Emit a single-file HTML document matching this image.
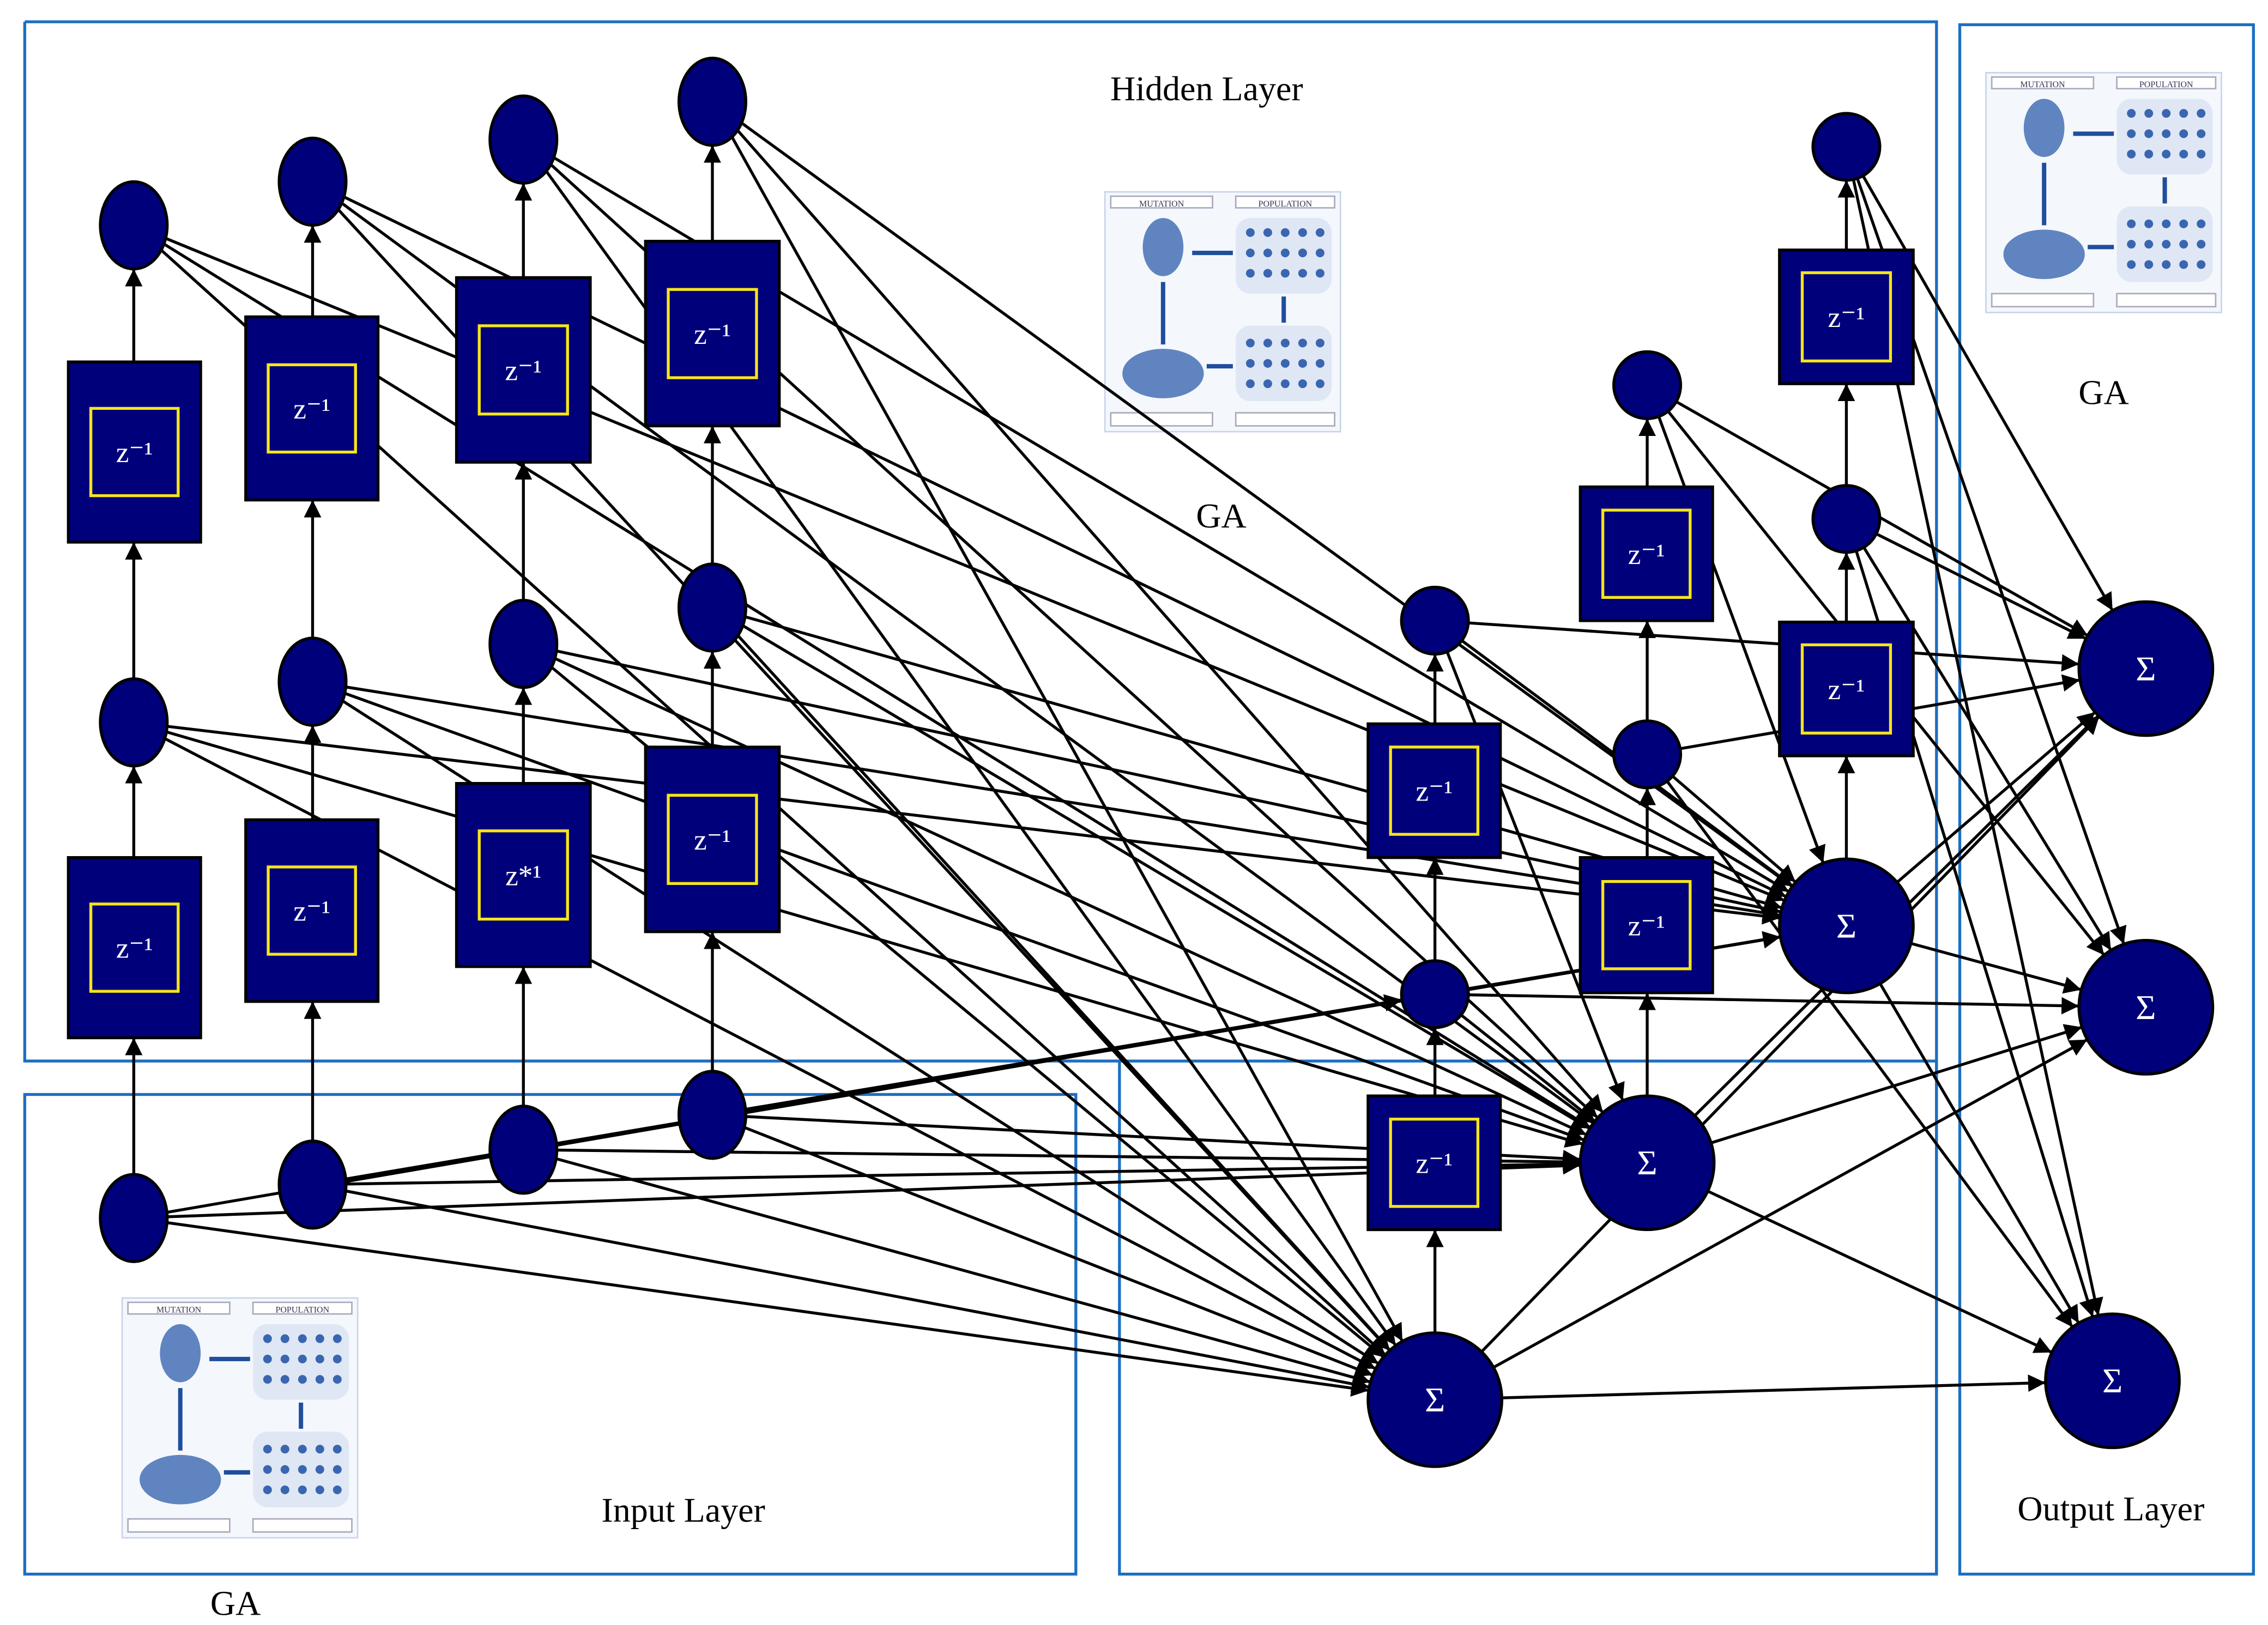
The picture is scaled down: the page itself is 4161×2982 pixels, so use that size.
<!DOCTYPE html>
<html><head><meta charset="utf-8"><style>
html,body{margin:0;padding:0;background:#fff;}
svg{display:block;}
text{font-family:"Liberation Serif",serif;}
</style></head><body>
<svg id="s" width="4161" height="2982" viewBox="0 0 1560 1118" xmlns="http://www.w3.org/2000/svg">
<defs>
<marker id="a" viewBox="0 0 10 10" refX="10" refY="5" markerWidth="6" markerHeight="6" orient="auto" markerUnits="strokeWidth"><path d="M0,0 L10,5 L0,10 z" fill="#000"/></marker>
<g id="ga">
<rect x="0" y="0" width="162" height="165" fill="#f4f7fc" stroke="#c8d4ea"/>
<rect x="4" y="3" width="70" height="8" fill="#fff" stroke="#aab"/><rect x="90" y="3" width="68" height="8" fill="#fff" stroke="#aab"/>
<text x="39" y="10" font-size="6" text-anchor="middle" fill="#335">MUTATION</text><text x="124" y="10" font-size="6" text-anchor="middle" fill="#335">POPULATION</text>
<ellipse cx="40" cy="38" rx="14" ry="20" fill="#3a66b0" opacity=".8"/>
<ellipse cx="40" cy="125" rx="28" ry="17" fill="#3a66b0" opacity=".8"/>
<rect x="90" y="18" width="66" height="52" rx="10" fill="#dfe7f5"/><rect x="90" y="92" width="66" height="52" rx="10" fill="#dfe7f5"/>
<g fill="#3a66b0"><circle cx="100" cy="28" r="3"/><circle cx="112" cy="28" r="3"/><circle cx="124" cy="28" r="3"/><circle cx="136" cy="28" r="3"/><circle cx="148" cy="28" r="3"/><circle cx="100" cy="42" r="3"/><circle cx="112" cy="42" r="3"/><circle cx="124" cy="42" r="3"/><circle cx="136" cy="42" r="3"/><circle cx="148" cy="42" r="3"/><circle cx="100" cy="56" r="3"/><circle cx="112" cy="56" r="3"/><circle cx="124" cy="56" r="3"/><circle cx="136" cy="56" r="3"/><circle cx="148" cy="56" r="3"/><circle cx="100" cy="104" r="3"/><circle cx="112" cy="104" r="3"/><circle cx="124" cy="104" r="3"/><circle cx="136" cy="104" r="3"/><circle cx="148" cy="104" r="3"/><circle cx="100" cy="118" r="3"/><circle cx="112" cy="118" r="3"/><circle cx="124" cy="118" r="3"/><circle cx="136" cy="118" r="3"/><circle cx="148" cy="118" r="3"/><circle cx="100" cy="132" r="3"/><circle cx="112" cy="132" r="3"/><circle cx="124" cy="132" r="3"/><circle cx="136" cy="132" r="3"/><circle cx="148" cy="132" r="3"/></g>
<path d="M60,42 H88 M123,72 V90 M88,120 H70 M40,105 V62" stroke="#1f4e9c" stroke-width="3"/>
<rect x="4" y="152" width="70" height="9" fill="#fff" stroke="#aab"/><rect x="90" y="152" width="68" height="9" fill="#fff" stroke="#aab"/>
</g>
</defs>
<g fill="none" stroke="#1b6fc2" stroke-width="2">
<path d="M17,15 H1332 V1083 M17,15 V730 H770"/>
<rect x="770" y="730" width="562" height="353"/>
<rect x="17" y="753" width="723" height="330"/>
<rect x="1348" y="17" width="202" height="1066"/>
</g>
<use href="#ga" x="760" y="132"/>
<use href="#ga" x="1366" y="50"/>
<use href="#ga" x="84" y="893"/>
<g font-size="24" fill="#000" text-anchor="middle">
<text x="830" y="69">Hidden Layer</text>
<text x="840" y="363">GA</text>
<text x="1447" y="278">GA</text>
<text x="470" y="1047">Input Layer</text>
<text x="162" y="1111">GA</text>
<text x="1452" y="1046">Output Layer</text>
</g>
<g id="L" stroke="#000" stroke-width="2" fill="none"></g>
<g id="N"></g>
</svg>
<script>
var NS="http://www.w3.org/2000/svg";
var L=document.getElementById('L'),N=document.getElementById('N');
function el(p,t,a){var e=document.createElementNS(NS,t);for(var k in a)e.setAttribute(k,a[k]);p.appendChild(e);return e;}
var n={
T1:[92,155,23,30],T2:[215,125,23,30],T3:[360,96,23,30],T4:[490,70,23,30],
M1:[92,497,23,30],M2:[215,469,23,30],M3:[360,443,23,30],M4:[490,418,23,30],
I1:[92,838,23,30],I2:[215,815,23,30],I3:[360,791,23,30],I4:[490,767,23,30],
S1:[987,963,46,46],S2:[1133,800,46,46],S3:[1270,637,46,46],
E1:[987,684,23,23],E2:[987,427,23,23],E3:[1133,519,23,23],E4:[1133,265,23,23],E5:[1270,357,23,23],E6:[1270,101,23,23],
O1:[1476,460,46,46],O2:[1476,693,46,46],O3:[1453,950,46,46]};
var boxes=[[47,249,91,124],[47,590,91,124],[169,218,91,126],[169,564,91,125],[314,191,92,127],[314,539,92,126],[444,166,92,127],[444,514,92,127],
[941,754,91,92],[941,498,91,92],[1087,590,91,93],[1087,335,91,92],[1224,428,92,92],[1224,172,92,92]];
var sup=["z⁻¹","z⁻¹","z⁻¹","z⁻¹","z⁻¹","z*¹","z⁻¹","z⁻¹","z⁻¹","z⁻¹","z⁻¹","z⁻¹","z⁻¹","z⁻¹"];
var E=[];
['T1','T2','T3','T4','M1','M2','M3','M4'].forEach(function(s){E.push([s,'S3'],[s,'S2'],[s,'S1']);});
E.push(['I1','S1'],['I1','S2'],['I1','E1'],['I2','S1'],['I2','S2'],['I2','S3'],['I3','S1'],['I3','S2'],['I4','S1'],['I4','S2'],['I4','S3']);
E.push(['E1','O2'],['E1','S2'],['E1','S3'],['E2','O1'],['E2','S3'],['E2','S2'],['E3','O1'],['E3','O3'],['E3','S3'],['E4','O1'],['E4','O2'],['E4','S3'],
['E5','O1'],['E5','O2'],['E5','O3'],['E6','O1'],['E6','O2'],['E6','O3'],['S3','O1'],['S3','O2'],['S3','O3'],['S2','O1'],['S2','O2'],['S2','O3'],['S1','O1'],['S1','O2'],['S1','O3']);
function edge(a,b){var A=n[a],B=n[b];var dx=B[0]-A[0],dy=B[1]-A[1],d=Math.sqrt(dx*dx+dy*dy);
var ux=dx/d,uy=dy/d;var t=1/Math.sqrt((ux*ux)/(B[2]*B[2])+(uy*uy)/(B[3]*B[3]));
el(L,'line',{x1:A[0],y1:A[1],x2:B[0]-ux*t,y2:B[1]-uy*t,'marker-end':'url(#a)'});}
E.forEach(function(e){edge(e[0],e[1]);});
// vertical arrows
function va(x,y1,y2){el(L,'line',{x1:x,y1:y1,x2:x,y2:y2,'marker-end':'url(#a)'});}
[[92,[808,714],[590,527],[467,373],[249,185]],[215,[785,689],[564,499],[439,344],[218,155]],[360,[761,665],[539,473],[413,318],[191,126]],[490,[737,641],[514,448],[388,293],[166,100]],
[987,[917,846],[754,707],[661,590],[498,450]],[1133,[754,683],[590,542],[496,427],[335,288]],[1270,[591,520],[428,380],[334,264],[172,124]]].forEach(function(c){for(var i=1;i<c.length;i++)va(c[0],c[i][0],c[i][1]);});
boxes.forEach(function(b,i){el(N,'rect',{x:b[0],y:b[1],width:b[2],height:b[3],fill:'#00007a',stroke:'#000','stroke-width':2});
var w=b[2]*0.66,h=Math.min(b[3]*0.66,w);el(N,'rect',{x:b[0]+(b[2]-w)/2,y:b[1]+(b[3]-h)/2,width:w,height:h,fill:'none',stroke:'#f5e51a','stroke-width':2});
var t=el(N,'text',{x:b[0]+b[2]/2,y:b[1]+b[3]/2+7,'font-size':20,fill:'#fff','text-anchor':'middle'});t.textContent=sup[i];});
for(var k in n){var v=n[k];el(N,'ellipse',{cx:v[0],cy:v[1],rx:v[2],ry:v[3],fill:'#00007a',stroke:'#000','stroke-width':2});
if(k[0]=='S'||k[0]=='O'){var t=el(N,'text',{x:v[0],y:v[1]+8,'font-size':24,fill:'#fff','text-anchor':'middle'});t.textContent='Σ';}}
</script>
</body></html>
